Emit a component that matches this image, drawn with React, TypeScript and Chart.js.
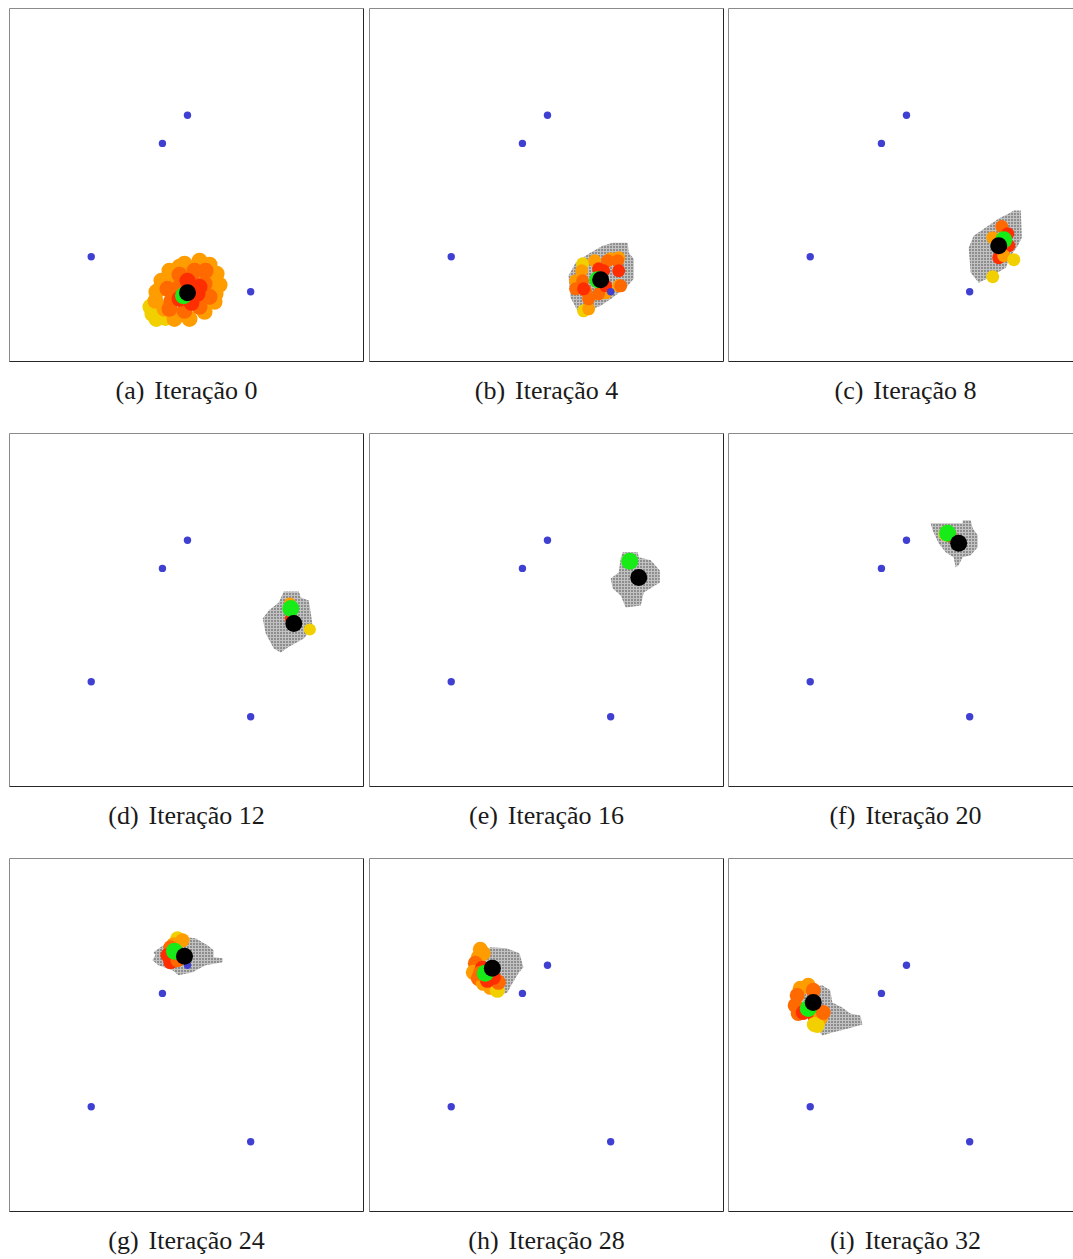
import React, { useEffect, useRef } from "react";
import { Chart, registerables } from "chart.js";

Chart.register(...registerables);

type P = [number, number];
type W = [number, number, number];

const panelLetters = ["a", "b", "c", "d", "e", "f", "g", "h", "i"];
const iterations = [0, 4, 8, 12, 16, 20, 24, 28, 32];

// Fixed (blue) reference points, same in every panel
const anchorX = [178, 153, 82, 241];
const anchorY = [107, 135, 248, 283];

// Grey explored region outline per panel
const shapeA: P[] = [];
const shapeB: P[] = [[243, 234], [258, 234], [259, 244], [264, 250], [264, 270], [258, 277], [243, 289], [231, 297], [218, 302], [209, 304], [201, 289], [199, 267], [206, 254], [219, 245], [233, 237]];
const shapeC: P[] = [[285, 202], [292, 202], [293, 229], [289, 237], [282, 247], [277, 259], [260, 269], [250, 274], [242, 264], [240, 239], [245, 227], [257, 219], [270, 210], [280, 205]];
const shapeD: P[] = [[274, 158], [289, 158], [291, 164], [299, 167], [301, 180], [303, 194], [294, 205], [278, 214], [271, 219], [264, 215], [256, 200], [253, 185], [259, 177], [269, 169]];
const shapeE: P[] = [[253, 119], [268, 119], [269, 124], [281, 127], [290, 137], [290, 149], [274, 159], [271, 172], [256, 174], [251, 162], [243, 155], [241, 145], [249, 139], [251, 125]];
const shapeF: P[] = [[202, 90], [234, 90], [234, 87], [242, 87], [244, 95], [249, 102], [249, 114], [242, 122], [234, 124], [230, 132], [227, 134], [225, 124], [217, 119], [210, 110], [204, 97]];
const shapeG: P[] = [[159, 82], [176, 79], [186, 80], [198, 87], [204, 92], [204, 99], [213, 100], [213, 104], [196, 107], [183, 114], [169, 117], [163, 112], [149, 107], [143, 102], [146, 97], [144, 94], [154, 87]];
const shapeH: P[] = [[121, 89], [137, 90], [150, 95], [154, 109], [149, 115], [143, 125], [138, 134], [128, 138], [116, 130], [109, 115], [111, 99]];
const shapeI: P[] = [[85, 129], [94, 127], [102, 132], [104, 144], [114, 149], [122, 155], [132, 157], [134, 166], [120, 170], [104, 174], [94, 177], [85, 165], [77, 156], [74, 144], [77, 134]];

// Particles: [x, y, weight level 0..3]
const particlesA: W[] = [
  [143, 305, 0], [147, 310, 0], [141, 298, 0], [150, 303, 0], [156, 309, 0], [146, 292, 1],
  [152, 272, 1], [160, 262, 1], [175, 255, 1], [190, 252, 1], [200, 256, 1], [207, 265, 1], [210, 276, 1],
  [205, 293, 1], [195, 303, 1], [180, 310, 1], [165, 310, 1], [155, 300, 1], [147, 283, 1], [152, 278, 1],
  [163, 268, 1], [200, 270, 1], [206, 285, 1], [170, 258, 1],
  [170, 266, 2], [185, 262, 2], [195, 275, 2], [200, 288, 2], [190, 298, 2], [175, 302, 2], [162, 292, 2],
  [158, 280, 2], [168, 280, 2], [185, 275, 2], [196, 262, 2], [160, 300, 2],
  [178, 272, 3], [188, 285, 3], [182, 294, 3], [170, 290, 3], [190, 278, 3],
];
const particlesB: W[] = [
  [213, 255, 0], [214, 302, 0],
  [225, 252, 1], [212, 262, 1], [241, 250, 1], [249, 249, 1], [249, 277, 1], [219, 300, 1], [206, 272, 1], [236, 284, 1],
  [238, 252, 2], [248, 252, 2], [213, 272, 2], [216, 282, 2], [219, 290, 2], [229, 285, 2], [251, 277, 2], [206, 280, 2],
  [249, 262, 3], [234, 262, 3], [214, 280, 3], [236, 277, 3], [229, 260, 3],
];
const particlesC: W[] = [
  [273, 218, 2], [279, 225, 3], [280, 237, 3], [270, 249, 3], [264, 229, 1], [275, 247, 1], [285, 251, 0], [264, 268, 0],
];
const particlesD: W[] = [[280, 170, 1], [281, 185, 3], [300, 196, 0]];
const particlesE: W[] = [[259, 127, 1]];
const particlesF: W[] = [[217, 101, 0], [218, 99, 1], [221, 102, 3]];
const particlesG: W[] = [[168, 80, 0], [173, 82, 1], [164, 86, 1], [161, 89, 2], [158, 97, 3], [161, 104, 3], [168, 102, 2]];
const particlesH: W[] = [
  [111, 91, 1], [109, 99, 1], [114, 95, 1], [106, 105, 2], [104, 114, 1], [109, 120, 2], [114, 125, 1], [121, 129, 1],
  [128, 132, 0], [129, 124, 2], [124, 119, 3], [113, 110, 3], [118, 122, 3], [111, 115, 2],
];
const particlesI: W[] = [
  [72, 130, 1], [69, 137, 2], [80, 127, 1], [85, 132, 2], [67, 147, 2], [70, 155, 2], [75, 154, 3], [87, 159, 3],
  [92, 160, 1], [89, 167, 0], [86, 166, 0], [95, 154, 2],
];

// Estimate (green) and true/best (black) points
const greenPts: P[] = [[174, 287], [228, 271], [275, 231], [281, 175], [260, 128], [219, 100], [165, 93], [116, 115], [80, 150]];
const blackPts: P[] = [[178, 284], [231, 271], [270, 237], [284, 190], [269, 144], [230, 110], [175, 98], [123, 110], [85, 144]];

const shapes = [shapeA, shapeB, shapeC, shapeD, shapeE, shapeF, shapeG, shapeH, shapeI];
const particles = [particlesA, particlesB, particlesC, particlesD, particlesE, particlesF, particlesG, particlesH, particlesI];

const levelColors = ["#f2d000", "#ff9d00", "#ff6a00", "#ff2e00"];
const particleRadius = [8, 6.5, 6.5, 6, 7, 7, 7, 7.5, 7.5];

const PANEL_W = 355;
const PANEL_H = 354;
const colLeft = [9, 369, 728];
const rowTop = [8, 433, 858];

const framePlugin = {
  id: "frame",
  afterDraw(chart: any) {
    const { ctx, width, height } = chart;
    ctx.save();
    ctx.lineWidth = 1;
    ctx.strokeStyle = "#8a8a8a";
    ctx.beginPath();
    ctx.moveTo(0.5, height - 0.5);
    ctx.lineTo(0.5, 0.5);
    ctx.lineTo(width - 0.5, 0.5);
    ctx.stroke();
    ctx.strokeStyle = "#262626";
    ctx.beginPath();
    ctx.moveTo(0.5, height - 0.5);
    ctx.lineTo(width - 0.5, height - 0.5);
    ctx.lineTo(width - 0.5, 0.5);
    ctx.stroke();
    ctx.restore();
  },
};

function Panel({ idx }: { idx: number }) {
  const ref = useRef<HTMLCanvasElement>(null);
  useEffect(() => {
    const canvas = ref.current!;
    const pc = document.createElement("canvas");
    pc.width = 3;
    pc.height = 3;
    const g = pc.getContext("2d")!;
    g.fillStyle = "#8e8e8e";
    g.fillRect(0, 0, 3, 3);
    g.fillStyle = "#c2c2c2";
    g.fillRect(0, 0, 3, 1);
    g.fillRect(0, 0, 1, 3);
    const pattern = canvas.getContext("2d")!.createPattern(pc, "repeat");

    const shape = shapes[idx];
    const parts = particles[idx];
    const datasets: any[] = [];
    if (shape.length) {
      const pts = shape.map(([x, y]) => ({ x, y }));
      pts.push({ x: shape[0][0], y: shape[0][1] });
      datasets.push({
        type: "line",
        data: pts,
        fill: "shape",
        backgroundColor: pattern,
        borderColor: "rgba(0,0,0,0)",
        borderWidth: 0,
        pointRadius: 0,
        tension: 0,
        showLine: true,
        order: 6,
      });
    }
    datasets.push({
      data: parts.map(([x, y]) => ({ x, y })),
      backgroundColor: parts.map(([, , l]) => levelColors[l]),
      borderWidth: 0,
      pointRadius: particleRadius[idx],
      order: 5,
    });
    datasets.push({
      data: anchorX.map((x, i) => ({ x, y: anchorY[i] })),
      backgroundColor: "#3f3fd2",
      borderWidth: 0,
      pointRadius: 3.7,
      order: 4,
    });
    datasets.push({
      data: [{ x: greenPts[idx][0], y: greenPts[idx][1] }],
      backgroundColor: "#18ec18",
      borderWidth: 0,
      pointRadius: 8.5,
      order: 3,
    });
    datasets.push({
      data: [{ x: blackPts[idx][0], y: blackPts[idx][1] }],
      backgroundColor: "#000000",
      borderWidth: 0,
      pointRadius: 8.5,
      order: 2,
    });

    const chart = new Chart(canvas, {
      type: "scatter",
      data: { datasets },
      options: {
        responsive: false,
        animation: false,
        devicePixelRatio: 1,
        events: [],
        layout: { padding: 0, autoPadding: false },
        plugins: { legend: { display: false }, tooltip: { enabled: false } },
        scales: {
          x: { type: "linear", min: 0, max: 354, display: false },
          y: { type: "linear", min: 0, max: 353, reverse: true, display: false },
        },
      },
      plugins: [framePlugin],
    } as any);
    return () => chart.destroy();
  }, [idx]);

  const left = colLeft[idx % 3];
  const top = rowTop[Math.floor(idx / 3)];
  return (
    <>
      <canvas
        ref={ref}
        width={PANEL_W}
        height={PANEL_H}
        style={{ position: "absolute", left, top, width: PANEL_W, height: PANEL_H }}
      />
      <div
        style={{
          position: "absolute",
          left,
          top: top + 368,
          width: PANEL_W,
          textAlign: "center",
          fontFamily: '"Liberation Serif", "DejaVu Serif", serif',
          fontSize: 26,
          color: "#1a1a1a",
          whiteSpace: "pre",
        }}
      >
        <span>({panelLetters[idx]})</span>
        <span style={{ marginLeft: 10 }}>Iteração {iterations[idx]}</span>
      </div>
    </>
  );
}

export default function App() {
  return (
    <div
      style={{
        position: "fixed",
        left: 0,
        top: 0,
        width: 1073,
        height: 1259,
        overflow: "hidden",
        background: "#ffffff",
      }}
    >
      {panelLetters.map((_, i) => (
        <Panel key={i} idx={i} />
      ))}
    </div>
  );
}
